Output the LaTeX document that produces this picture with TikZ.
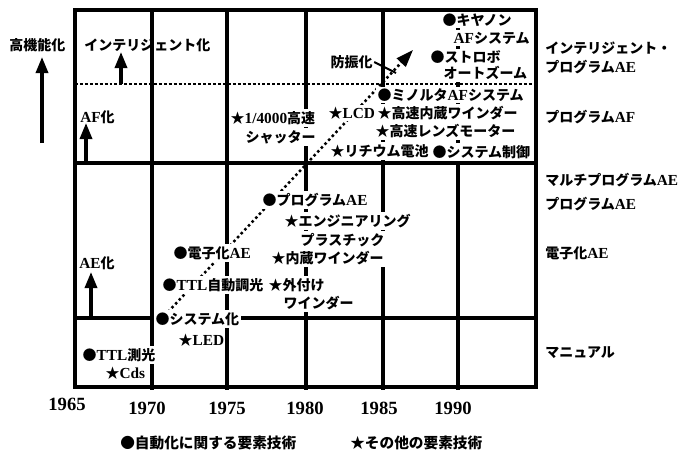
\documentclass[tikz,border=0pt]{standalone}
\usepackage{fontspec}
\setmainfont{Liberation Serif}
\newfontfamily\jp{Noto Sans CJK JP}
\usetikzlibrary{arrows.meta}
\newcommand\lt[1]{{\rmfamily\bfseries\fontsize{11.5pt}{12pt}\selectfont #1}}
\begin{document}
\begin{tikzpicture}[x=0.75pt,y=-0.75pt,
  gridline/.style={line width=2.5pt},
  hdot/.style={line width=2.2pt, dash pattern=on 2.2pt off 1.5pt},
  diag/.style={line width=1.9pt, dash pattern=on 1.9pt off 2.1pt, -{Triangle[length=13pt,width=9pt]}},
  uparrow/.style={line width=2.5pt, -{Triangle[length=12pt,width=9pt]}},
  lbl/.style={anchor=west, inner xsep=1pt, inner ysep=1.5pt, fill=white, font=\jp\bfseries\fontsize{10.5pt}{12pt}\selectfont},
  side/.style={anchor=west, inner sep=0pt, font=\jp\bfseries\fontsize{10.5pt}{12pt}\selectfont},
  yearlbl/.style={inner sep=0pt, font=\rmfamily\bfseries\fontsize{14pt}{16pt}\selectfont},
  legend/.style={anchor=west, inner sep=0pt, font=\jp\bfseries\fontsize{11pt}{13pt}\selectfont},
]
\useasboundingbox (0,0) rectangle (681,450);

% grid
\draw[gridline] (75,10) rectangle (536,387);
\foreach \x in {152,227,306,383,458} \draw[gridline] (\x,10) -- (\x,390);
\draw[gridline] (75,163) -- (536,163);
\draw[gridline] (75,318) -- (536,318);
\draw[hdot] (75,84) -- (536,84);

% diagonal trend arrow
\coordinate (dstart) at (168,312);
\coordinate (dtip) at (413,50);
\draw[diag] (dstart) -- (dtip);

% left labels and arrows
\node[side] (kk) at (9,45) {高機能化};
\coordinate (kkb) at (42,143); \coordinate (kkt) at (42,57);
\draw[uparrow] (kkb) -- (kkt);
\node[side] (intel) at (84,45) {インテリジェント化};
\coordinate (inb) at (121,84); \coordinate (int) at (121,52);
\draw[uparrow] (inb) -- (int);
\node[side] (afka) at (80,117) {\lt{AF}化};
\coordinate (afb) at (86,163); \coordinate (aft) at (86,123);
\draw[uparrow] (afb) -- (aft);
\node[side] (aeka) at (79,263) {\lt{AE}化};
\coordinate (aeb) at (91,318); \coordinate (aet) at (91,272);
\draw[uparrow] (aeb) -- (aet);

% right labels
\node[side] (r1) at (545,48) {インテリジェント・};
\node[side] (r2) at (545,67) {プログラム\lt{AE}};
\node[side] (r3) at (545,117) {プログラム\lt{AF}};
\node[side] (r4) at (545,180) {マルチプログラム\lt{AE}};
\node[side] (r5) at (545,204) {プログラム\lt{AE}};
\node[side] (r6) at (545,253) {電子化\lt{AE}};
\node[side] (r7) at (545,353) {マニュアル};

% bottom region items
\node[lbl] (ttlsok) at (81,355) {●\lt{TTL}測光};
\node[lbl] (cds) at (104,373) {★\lt{Cds}};
\node[lbl] (sys) at (154,319) {●システム化};
\node[lbl] (led) at (177,340) {★\lt{LED}};
\node[lbl] (ttlauto) at (161,285) {●\lt{TTL}自動調光};
\node[lbl] (denshi) at (172,253) {●電子化\lt{AE}};
\node[lbl] (progae) at (261,200) {●プログラム\lt{AE}};
\node[lbl] (eng) at (283,221) {★エンジニアリング};
\node[lbl] (plas) at (299,240) {プラスチック};
\node[lbl] (naizo) at (270,258) {★内蔵ワインダー};
\node[lbl] (soto) at (267,285) {★外付け};
\node[lbl] (wind) at (282,303) {ワインダー};

% upper region items
\node[lbl] (s4000) at (229,118) {★\lt{1/4000}高速};
\node[lbl] (shut) at (244,137) {シャッター};
\node[lbl] (lcd) at (327,113) {★\lt{LCD}};
\node[lbl] (hwind) at (376,113) {★高速内蔵ワインダー};
\node[lbl] (hlens) at (374,131) {★高速レンズモーター};
\node[lbl] (lith) at (329,151) {★リチウム電池};
\node[lbl] (sysctl) at (431,152) {●システム制御};
\node[lbl] (minolta) at (376,95) {●ミノルタ\lt{AF}システム};
\node[lbl] (boshin) at (329,62) {防振化};
\node[lbl] (canon) at (441,20) {●キヤノン};
\node[lbl] (canonaf) at (452,38) {\lt{AF}システム};
\node[lbl] (strobo) at (429,57) {●ストロボ};
\node[lbl] (zoom) at (442,73) {オートズーム};

% pointer for 防振化
\coordinate (bp) at (396,73);
\draw[line width=1.5pt] (boshin.east) -- (bp);

% years
\node[yearlbl] (y65) at (67,404) {1965};
\node[yearlbl] (y70) at (147,408) {1970};
\node[yearlbl] (y75) at (227,408) {1975};
\node[yearlbl] (y80) at (305,408) {1980};
\node[yearlbl] (y85) at (379,408) {1985};
\node[yearlbl] (y90) at (453,408) {1990};

% legend
\node[legend] (leg1) at (120,443) {●自動化に関する要素技術};
\node[legend] (leg2) at (350,443) {★その他の要素技術};
\end{tikzpicture}
\end{document}
